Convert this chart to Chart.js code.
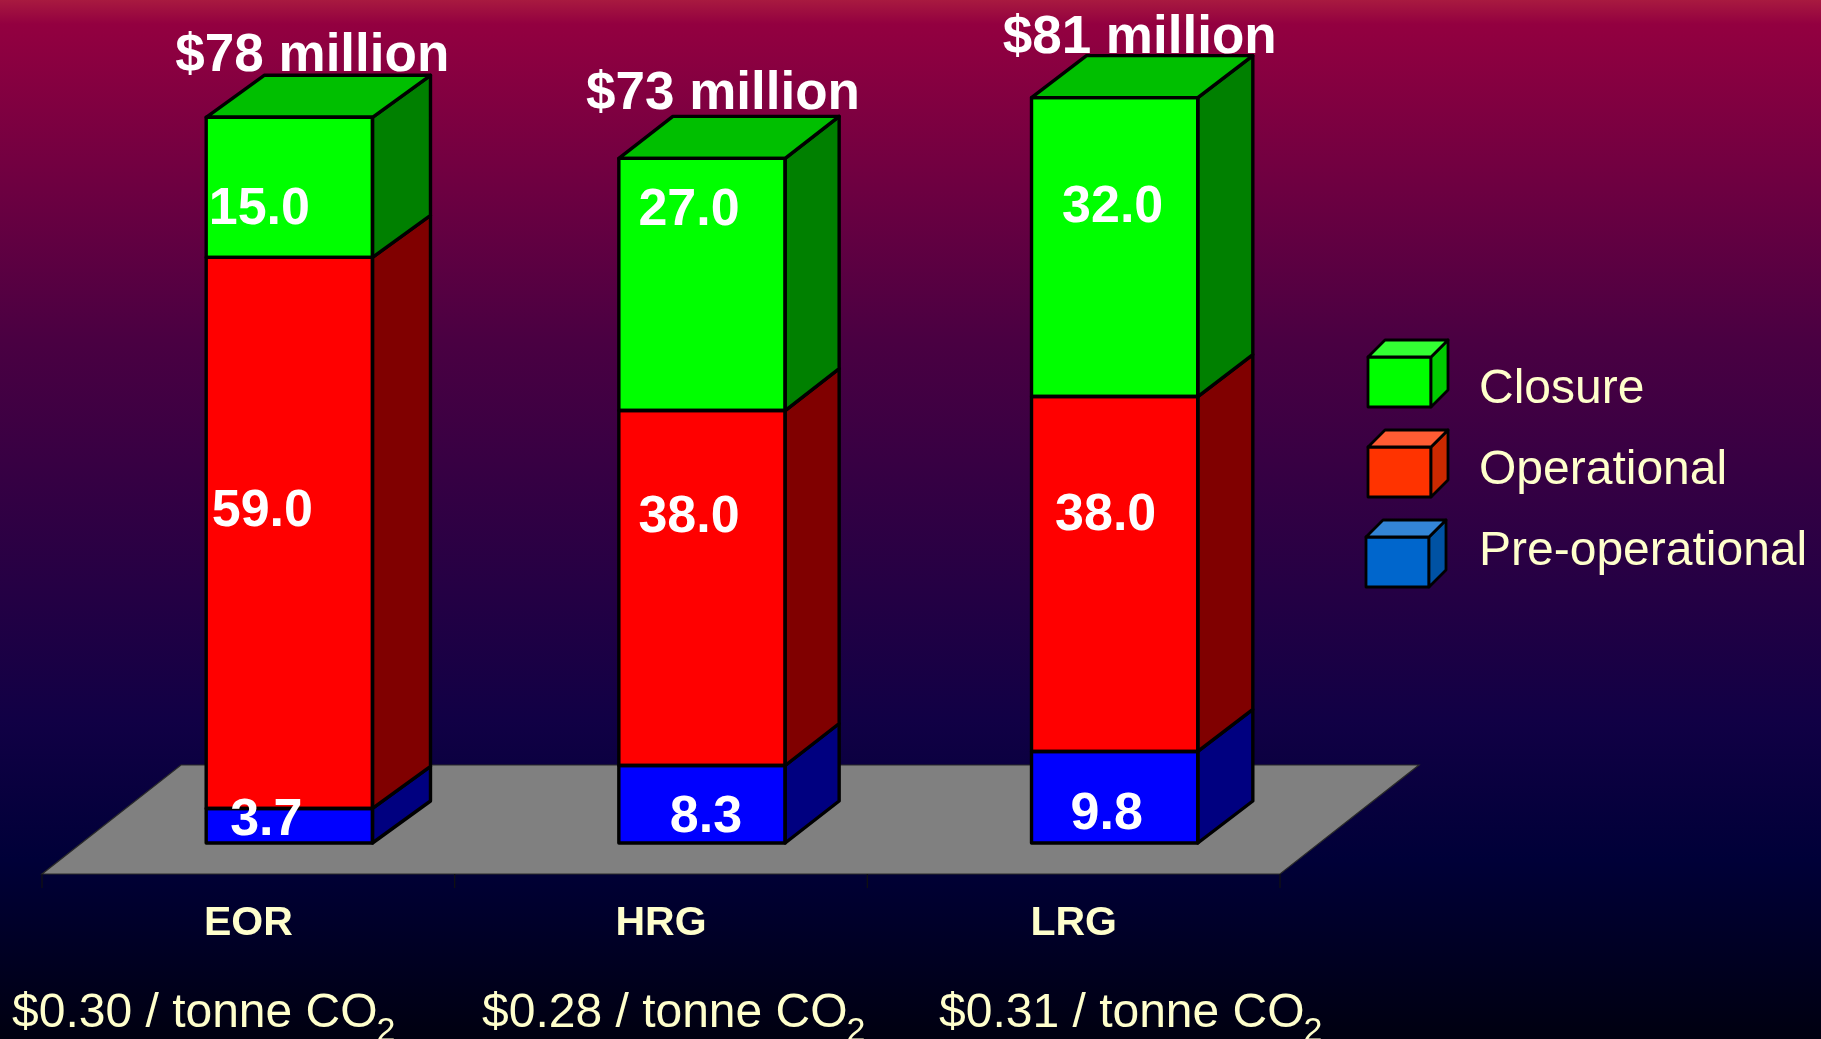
<!DOCTYPE html>
<html>
<head>
  <title>Cost by project type</title>
  <script src="https://cdn.jsdelivr.net/npm/chart.js"></script>
  <style>
    html, body { margin: 0; padding: 0; overflow: hidden; }
    body {
      width: 1821px; height: 1039px;
      background: linear-gradient(180deg, #a81a40 0, #930040 24px, #4a0042 340px, #110045 720px, #000038 860px, #000010 1039px);
    }
    canvas { display: block; }
  </style>
</head>
<body>
  <canvas id="myChart" width="1821" height="1039"></canvas>

  <script>
    var categories = ['EOR', 'HRG', 'LRG'];
    var preOperational = [3.7, 8.3, 9.8];
    var operational = [59.0, 38.0, 38.0];
    var closure = [15.0, 27.0, 32.0];
    var totals = ['$78 million', '$73 million', '$81 million'];
    var costs = ['$0.30 / tonne CO', '$0.28 / tonne CO', '$0.31 / tonne CO'];

    var FONT = '"Liberation Sans", Arial, sans-serif';
    var CREAM = '#ffffcc';

    // how far the 3d faces go back, the original bars are not all the same
    var depthX = [58, 54, 55];
    var DEPTH_Y = -42;

    // colours per dataset: front, side, top
    var barColors = [
      { front: '#0000ff', side: '#000080', top: '#0000c0' },
      { front: '#ff0000', side: '#800000', top: '#c00000' },
      { front: '#00ff00', side: '#008000', top: '#00bf00' }
    ];
    var legendColors = [
      { front: '#0066cc', side: '#0052a3', top: '#3385d6' },
      { front: '#ff3300', side: '#cc2900', top: '#ff5c33' },
      { front: '#00ff00', side: '#00cc00', top: '#33ff33' }
    ];
    // legend cube box + text baseline, top row first
    var legendRows = [
      { dataset: 2, x: 1368, y: 357, textY: 403 },
      { dataset: 1, x: 1368, y: 447, textY: 484 },
      { dataset: 0, x: 1366, y: 537, textY: 565 }
    ];

    // the value labels are hand placed on the slide, so they need a nudge per bar
    var labelNudge = [
      [[-23, -5], [4, 13], [-8, 17]],
      [[-27, -21], [-13, -70], [-9, -58]],
      [[-30, 22], [-13, -74], [-2, -39]]
    ];
    var totalNudge = [[23, -46], [21, -49], [25, -45]];
    var costX = [12, 482, 939];

    function poly(ctx, pts, fill) {
      ctx.beginPath();
      ctx.moveTo(pts[0][0], pts[0][1]);
      for (var i = 1; i < pts.length; i++) ctx.lineTo(pts[i][0], pts[i][1]);
      ctx.closePath();
      ctx.fillStyle = fill;
      ctx.fill();
      ctx.stroke();
    }

    function faces(ctx, l, t, r, b, dx, dy, c, drawTop) {
      poly(ctx, [[r, t], [r + dx, t + dy], [r + dx, b + dy], [r, b]], c.side);
      if (drawTop) poly(ctx, [[l, t], [l + dx, t + dy], [r + dx, t + dy], [r, t]], c.top);
    }

    var floorAndFaces = {
      id: 'floorAndFaces',
      beforeDatasetsDraw: function(chart) {
        var ctx = chart.ctx, a = chart.chartArea;
        var front = a.bottom + 31, back = a.bottom - 78;
        var l = a.left - 41, r = a.right - 41;
        ctx.save();
        ctx.strokeStyle = '#2a2a2a';
        ctx.lineWidth = 1.2;
        poly(ctx, [[l, front], [r, front], [r + 139, back], [l + 139, back]], '#808080');
        // ticks under the front edge of the floor
        ctx.strokeStyle = '#111111';
        ctx.beginPath();
        for (var i = 0; i <= categories.length; i++) {
          var tx = l + (r - l) * i / categories.length;
          ctx.moveTo(tx, front);
          ctx.lineTo(tx, front + 14);
        }
        ctx.stroke();
        ctx.restore();
      },
      afterDatasetsDraw: function(chart) {
        var ctx = chart.ctx;
        var nSets = chart.data.datasets.length;
        ctx.save();
        ctx.strokeStyle = '#000000';
        ctx.lineWidth = 3.4;
        ctx.lineJoin = 'round';
        for (var d = 0; d < nSets; d++) {
          var bars = chart.getDatasetMeta(d).data;
          for (var i = 0; i < bars.length; i++) {
            var el = bars[i];
            var l = el.x - el.width / 2, r = el.x + el.width / 2;
            faces(ctx, l, el.y, r, el.base, depthX[i], DEPTH_Y, barColors[d], d === nSets - 1);
            ctx.strokeRect(l, el.y, el.width, el.base - el.y);
          }
        }
        ctx.restore();
      },
      afterDraw: function(chart) {
        var ctx = chart.ctx, i;
        var sets = chart.data.datasets;
        ctx.save();
        // value labels
        ctx.fillStyle = '#ffffff';
        ctx.font = 'bold 52px ' + FONT;
        ctx.textAlign = 'center';
        ctx.textBaseline = 'middle';
        for (var d = 0; d < sets.length; d++) {
          var bars = chart.getDatasetMeta(d).data;
          for (i = 0; i < bars.length; i++) {
            var n = labelNudge[d][i];
            ctx.fillText(sets[d].data[i].toFixed(1), bars[i].x + n[0], (bars[i].y + bars[i].base) / 2 + n[1]);
          }
        }
        // totals over each stack
        ctx.font = 'bold 53px ' + FONT;
        ctx.textBaseline = 'alphabetic';
        var topBars = chart.getDatasetMeta(sets.length - 1).data;
        for (i = 0; i < totals.length; i++) {
          ctx.fillText(totals[i], topBars[i].x + totalNudge[i][0], topBars[i].y + totalNudge[i][1]);
        }
        // cost per tonne, the 2 is a subscript
        ctx.fillStyle = CREAM;
        ctx.textAlign = 'left';
        for (i = 0; i < costs.length; i++) {
          ctx.font = '48px ' + FONT;
          var w = ctx.measureText(costs[i]).width;
          ctx.fillText(costs[i], costX[i], 1027);
          ctx.font = '34px ' + FONT;
          ctx.fillText('2', costX[i] + w - 1, 1041);
        }
        // legend
        ctx.strokeStyle = '#000000';
        ctx.lineWidth = 2.8;
        ctx.lineJoin = 'round';
        legendRows.forEach(function(row) {
          var c = legendColors[row.dataset];
          poly(ctx, [[row.x, row.y], [row.x + 63, row.y], [row.x + 63, row.y + 50], [row.x, row.y + 50]], c.front);
          faces(ctx, row.x, row.y, row.x + 63, row.y + 50, 17, -17, c, true);
          ctx.fillStyle = CREAM;
          ctx.font = '48px ' + FONT;
          ctx.fillText(sets[row.dataset].label, 1479, row.textY);
        });
        ctx.restore();
      }
    };

    var ctx = document.getElementById('myChart').getContext('2d');
    var myChart = new Chart(ctx, {
      type: 'bar',
      data: {
        labels: categories,
        datasets: [
          { label: 'Pre-operational', data: preOperational, backgroundColor: barColors[0].front },
          { label: 'Operational', data: operational, backgroundColor: barColors[1].front },
          { label: 'Closure', data: closure, backgroundColor: barColors[2].front }
        ]
      },
      options: {
        responsive: false,
        animation: false,
        layout: { padding: { left: 83, right: 500, top: 2.4, bottom: 0 } },
        datasets: { bar: { barPercentage: 1, categoryPercentage: 0.403, borderWidth: 0 } },
        plugins: { legend: { display: false }, tooltip: { enabled: false } },
        scales: {
          x: {
            stacked: true,
            grid: { display: false, drawTicks: false },
            border: { display: false },
            afterFit: function(scale) { scale.height = 196; },
            ticks: {
              color: CREAM,
              font: { family: FONT, size: 41, weight: 'bold' },
              padding: 56,
              labelOffset: -41,
              maxRotation: 0,
              autoSkip: false
            }
          },
          y: { stacked: true, display: false, min: 0, max: 90 }
        }
      },
      plugins: [floorAndFaces]
    });
  </script>
</body>
</html>
